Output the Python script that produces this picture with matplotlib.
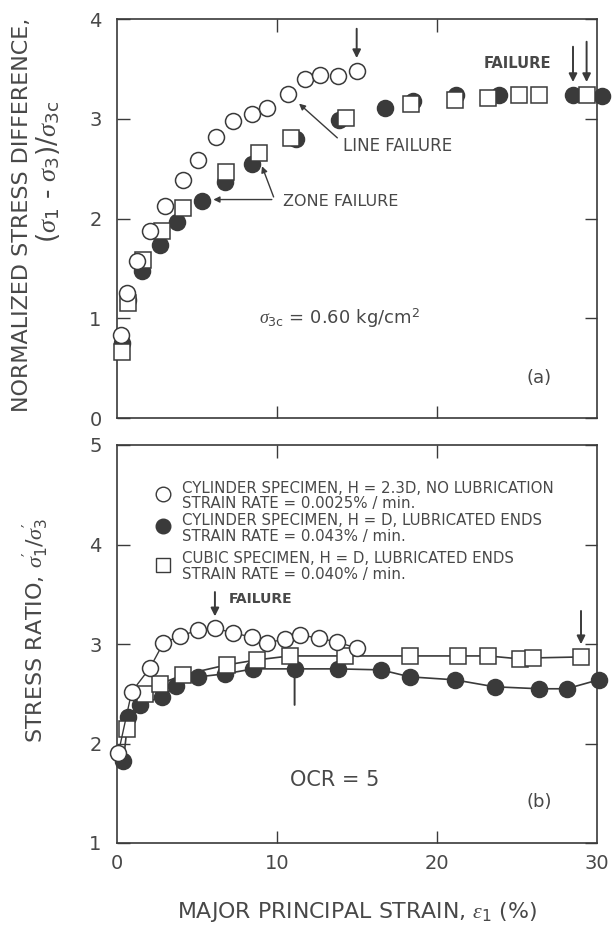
import matplotlib
matplotlib.use("Agg")
import matplotlib.pyplot as plt
import numpy as np

plt.rcParams['font.family'] = ['DejaVu Sans']
plt.rcParams['mathtext.fontset'] = 'custom'
plt.rcParams['mathtext.rm'] = 'DejaVu Sans'
plt.rcParams['mathtext.it'] = 'Liberation Serif:italic'

INK = '#3a3a3a'
TXT = '#484848'

# ---------------- Panel (a): normalized stress difference ----------------
a_open_x = [0.23, 0.6, 1.23, 2.06, 3.0, 4.1, 5.08, 6.17, 7.27, 8.42, 9.35, 10.7, 11.75, 12.7, 13.8, 14.98]
a_open_y = [0.83, 1.25, 1.57, 1.87, 2.13, 2.39, 2.59, 2.82, 2.98, 3.05, 3.11, 3.25, 3.40, 3.44, 3.43, 3.48]

a_fill_x = [0.3, 0.7, 1.54, 2.69, 3.73, 5.29, 6.75, 8.42, 11.2, 13.9, 16.75, 18.5, 21.2, 23.9, 28.5, 30.3]
a_fill_y = [0.75, 1.18, 1.47, 1.73, 1.96, 2.18, 2.37, 2.55, 2.80, 2.99, 3.11, 3.18, 3.24, 3.24, 3.24, 3.23]

a_sq_x = [0.29, 0.71, 1.65, 2.79, 4.15, 6.8, 8.9, 10.9, 14.3, 18.4, 21.1, 23.2, 25.1, 26.4, 29.4]
a_sq_y = [0.66, 1.15, 1.58, 1.87, 2.11, 2.47, 2.66, 2.81, 3.01, 3.15, 3.19, 3.21, 3.24, 3.24, 3.24]

# ---------------- Panel (b): stress ratio ----------------
b_open_x = [0.08, 0.92, 2.06, 2.9, 3.94, 5.08, 6.12, 7.27, 8.42, 9.35, 10.5, 11.44, 12.6, 13.73, 14.98]
b_open_y = [1.90, 2.52, 2.76, 3.01, 3.08, 3.14, 3.16, 3.11, 3.07, 3.01, 3.05, 3.09, 3.06, 3.02, 2.96]

b_fill_x = [0.4, 0.7, 1.44, 2.79, 3.69, 5.08, 6.75, 8.52, 11.1, 13.8, 16.5, 18.3, 21.1, 23.6, 26.4, 28.1, 30.1]
b_fill_y = [1.82, 2.27, 2.39, 2.47, 2.58, 2.67, 2.70, 2.75, 2.75, 2.75, 2.74, 2.67, 2.64, 2.57, 2.55, 2.55, 2.64]

b_sq_x = [0.6, 1.75, 2.69, 4.15, 6.85, 8.73, 10.8, 14.25, 18.3, 21.3, 23.2, 25.2, 26.0, 29.0]
b_sq_y = [2.15, 2.50, 2.60, 2.69, 2.79, 2.84, 2.88, 2.88, 2.88, 2.88, 2.88, 2.85, 2.86, 2.87]

x_ticks = [0, 10, 20, 30]
a_yticks = [0, 1, 2, 3, 4]
b_yticks = [1, 2, 3, 4, 5]

legend_lines = [
    ("CYLINDER SPECIMEN, H = 2.3D, NO LUBRICATION", "STRAIN RATE = 0.0025% / min."),
    ("CYLINDER SPECIMEN, H = D, LUBRICATED ENDS", "STRAIN RATE = 0.043% / min."),
    ("CUBIC SPECIMEN, H = D, LUBRICATED ENDS", "STRAIN RATE = 0.040% / min."),
]

fig = plt.figure(figsize=(6.15, 9.26), dpi=100)
L, R = 117 / 615, 597 / 615
axa = fig.add_axes([L, 1 - 418 / 926, R - L, (418 - 19) / 926])
axb = fig.add_axes([L, 1 - 843 / 926, R - L, (843 - 445) / 926])

ms = 11.5
mew = 1.1

def style(ax, yticks, ylim):
    ax.set_xlim(0, 30)
    ax.set_ylim(*ylim)
    ax.set_xticks([10, 20])
    ax.set_yticks(yticks)
    ax.tick_params(direction='in', length=9, width=1.0, color=INK,
                   top=True, right=True, labelsize=14, labelcolor=TXT, pad=11)
    for s in ax.spines.values():
        s.set_color(INK)
        s.set_linewidth(1.2)

# Panel (a)
axa.plot(a_fill_x, a_fill_y, 'o', ms=ms, mfc=INK, mec=INK, mew=mew, clip_on=False, zorder=3)
axa.plot(a_sq_x, a_sq_y, 's', ms=ms - 0.5, mfc='white', mec=INK, mew=mew, clip_on=False, zorder=4)
axa.plot(a_open_x, a_open_y, 'o', ms=ms, mfc='white', mec=INK, mew=mew, clip_on=False, zorder=5)
style(axa, a_yticks, (0, 4))
axa.set_xticklabels([])

arr = dict(arrowstyle='-|>', color=INK, lw=1.4, mutation_scale=12)
axa.annotate('', xy=(14.98, 3.58), xytext=(14.98, 3.93), arrowprops=arr)
axa.annotate('', xy=(28.5, 3.34), xytext=(28.5, 3.75), arrowprops=arr)
axa.annotate('', xy=(29.35, 3.34), xytext=(29.35, 3.8), arrowprops=arr)
axa.text(25.0, 3.55, 'FAILURE', fontsize=10.6, color=TXT, ha='center', va='center', fontweight='bold')
thin = dict(arrowstyle='-|>', color=INK, lw=1.0, mutation_scale=9)
axa.annotate('', xy=(11.25, 3.17), xytext=(13.9, 2.79), arrowprops=thin)
axa.text(14.1, 2.73, 'LINE FAILURE', fontsize=12, color=TXT, ha='left', va='center')
axa.annotate('', xy=(5.85, 2.19), xytext=(9.85, 2.19), arrowprops=thin)
axa.annotate('', xy=(9.0, 2.55), xytext=(9.85, 2.19), arrowprops=thin)
axa.text(10.4, 2.17, 'ZONE FAILURE', fontsize=11.5, color=TXT, ha='left', va='center')
axa.text(13.9, 1.0, r'$\mathit{\sigma}_{\mathrm{3c}}$ = 0.60 kg/cm$^{\mathrm{2}}$', fontsize=13,
         color=TXT, ha='center', va='center')
axa.text(26.4, 0.4, '(a)', fontsize=13, color=TXT, ha='center', va='center')

# Panel (b)
axb.plot(b_fill_x, b_fill_y, '-o', ms=ms, mfc=INK, mec=INK, color=INK, lw=1.2, mew=mew, clip_on=False, zorder=3)
axb.plot(b_sq_x, b_sq_y, '-s', ms=ms - 0.5, mfc='white', mec=INK, color=INK, lw=1.2, mew=mew, clip_on=False, zorder=4)
axb.plot(b_open_x, b_open_y, '-o', ms=ms, mfc='white', mec=INK, color=INK, lw=1.0, mew=mew, clip_on=False, zorder=5)
style(axb, b_yticks, (1, 5))
axb.set_xticks(x_ticks)
axb.tick_params(axis='x', pad=8)
axb.set_xticklabels([str(t) for t in x_ticks])
for t in axb.xaxis.get_major_ticks():
    if t.get_loc() in (0, 30):
        t.tick1line.set_visible(False)
        t.tick2line.set_visible(False)

axb.annotate('', xy=(6.12, 3.25), xytext=(6.12, 3.55), arrowprops=arr)
axb.text(7.0, 3.45, 'FAILURE', fontsize=10, color=TXT, ha='left', va='center', fontweight='bold')
axb.annotate('', xy=(11.1, 2.85), xytext=(11.1, 2.36), arrowprops=arr)
axb.annotate('', xy=(29.0, 2.97), xytext=(29.0, 3.36), arrowprops=arr)
axb.text(13.6, 1.63, 'OCR = 5', fontsize=15, color=TXT, ha='center', va='center')
axb.text(26.4, 1.41, '(b)', fontsize=13, color=TXT, ha='center', va='center')

# legend drawn as text
leg_marker_y = [4.51, 4.19, 3.79]
leg_line_y = [(4.56, 4.41), (4.24, 4.08), (3.86, 3.70)]
leg_styles = [dict(marker='o', mfc='white'), dict(marker='o', mfc=INK), dict(marker='s', mfc='white')]
for (l1, l2), my, (y1, y2), st in zip(legend_lines, leg_marker_y, leg_line_y, leg_styles):
    axb.plot([2.85], [my], ls='none', ms=10.5, mec=INK, mew=1.0, **st)
    axb.text(4.05, y1, l1, fontsize=10.8, color=TXT, ha='left', va='center')
    axb.text(4.05, y2, l2, fontsize=10.8, color=TXT, ha='left', va='center')

# axis labels
fig.text(22 / 615, 1 - 215 / 926, 'NORMALIZED STRESS DIFFERENCE,', rotation=90,
         fontsize=16, color=TXT, ha='center', va='center')
fig.text(48 / 615, 1 - 172 / 926, r'($\mathit{\sigma}_{\mathrm{1}}$ - $\mathit{\sigma}_{\mathrm{3}}$)/$\mathit{\sigma}_{\mathrm{3c}}$',
         rotation=90, fontsize=19, color=TXT, ha='center', va='center')
fig.text(36 / 615, 1 - 630 / 926, r"STRESS RATIO, $\mathit{\sigma}^{\prime}_{\mathrm{1}}/\mathit{\sigma}^{\prime}_{\mathrm{3}}$",
         rotation=90, fontsize=16, color=TXT, ha='center', va='center')
fig.text(357 / 615, 1 - 912 / 926, r'MAJOR PRINCIPAL STRAIN, $\mathit{\epsilon}_{\mathrm{1}}$ (%)',
         fontsize=15.8, color=TXT, ha='center', va='center')

fig.savefig('out.png', dpi=100, facecolor='white')
